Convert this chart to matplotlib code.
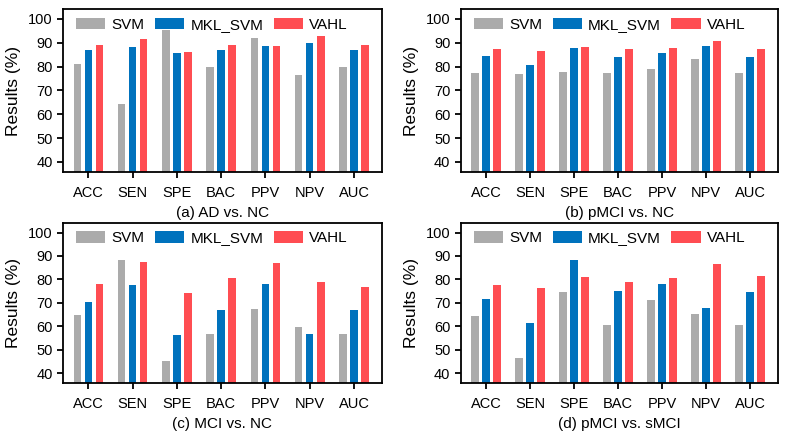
import numpy as np
import matplotlib
matplotlib.use("Agg")
import matplotlib.pyplot as plt

plt.rcParams['font.family'] = ['Liberation Sans', 'DejaVu Sans']

metrics = ["ACC", "SEN", "SPE", "BAC", "PPV", "NPV", "AUC"]
methods = ["SVM", "MKL_SVM", "VAHL"]
colors = ["#ababab", "#0072bd", "#ff4d52"]

titles = ["(a) AD vs. NC", "(b) pMCI vs. NC", "(c) MCI vs. NC", "(d) pMCI vs. sMCI"]

ad_nc_svm = [81.3, 64.1, 95.4, 79.7, 92.1, 76.3, 79.7]
ad_nc_mkl = [87.0, 88.2, 85.8, 87.0, 88.6, 89.8, 87.0]
ad_nc_vahl = [88.9, 91.7, 86.3, 89.1, 88.8, 92.7, 89.1]

pmci_nc_svm = [77.4, 77.1, 77.8, 77.4, 78.9, 83.0, 77.4]
pmci_nc_mkl = [84.4, 80.6, 87.7, 83.9, 85.6, 88.8, 84.0]
pmci_nc_vahl = [87.4, 86.4, 88.2, 87.4, 87.9, 90.7, 87.4]

mci_nc_svm = [64.9, 88.2, 45.4, 56.7, 67.4, 59.7, 56.7]
mci_nc_mkl = [70.5, 77.7, 56.3, 67.0, 78.2, 56.7, 67.0]
mci_nc_vahl = [78.2, 87.4, 74.3, 80.8, 86.8, 78.7, 76.8]

pmci_smci_svm = [64.5, 46.6, 74.8, 60.7, 71.4, 65.1, 60.7]
pmci_smci_mkl = [71.7, 61.6, 88.1, 74.9, 78.1, 67.7, 74.5]
pmci_smci_vahl = [77.7, 76.4, 81.1, 79.0, 80.8, 86.5, 81.3]

panels = [
    [ad_nc_svm, ad_nc_mkl, ad_nc_vahl],
    [pmci_nc_svm, pmci_nc_mkl, pmci_nc_vahl],
    [mci_nc_svm, mci_nc_mkl, mci_nc_vahl],
    [pmci_smci_svm, pmci_smci_mkl, pmci_smci_vahl],
]

# axes boxes in figure fractions: left, bottom, width, height
boxes = [
    [0.080, 0.607, 0.404, 0.372],
    [0.584, 0.607, 0.402, 0.372],
    [0.080, 0.125, 0.404, 0.366],
    [0.584, 0.125, 0.402, 0.366],
]

fig = plt.figure(figsize=(7.89, 4.38), dpi=100)
x = np.arange(len(metrics))
offsets = [-0.25, 0.0, 0.25]
width = 0.17

for box, series, title in zip(boxes, panels, titles):
    ax = fig.add_axes(box)
    for vals, name, col, off in zip(series, methods, colors, offsets):
        ax.bar(x + off, vals, width, color=col, label=name)
    ax.set_xlim(-0.57, 6.63)
    ax.set_ylim(35.7, 104.1)
    ax.set_yticks(range(40, 101, 10))
    ax.set_xticks(x)
    ax.set_xticklabels(metrics)
    ax.tick_params(axis='both', labelsize=10.5, direction='out', length=4, width=1.3)
    ax.tick_params(axis='x', pad=6)
    for sp in ax.spines.values():
        sp.set_linewidth(1.3)
    ax.set_ylabel("Results (%)", fontsize=12.5, labelpad=5)
    ax.set_xlabel(title, fontsize=11, labelpad=4)
    ax.legend(loc='upper left', ncol=3, frameon=False, fontsize=11,
              handlelength=1.9, handleheight=0.75, handletextpad=0.4,
              columnspacing=0.7, borderaxespad=0.15, bbox_to_anchor=(0.015, 1.0))

fig.savefig("out.png", dpi=100)
